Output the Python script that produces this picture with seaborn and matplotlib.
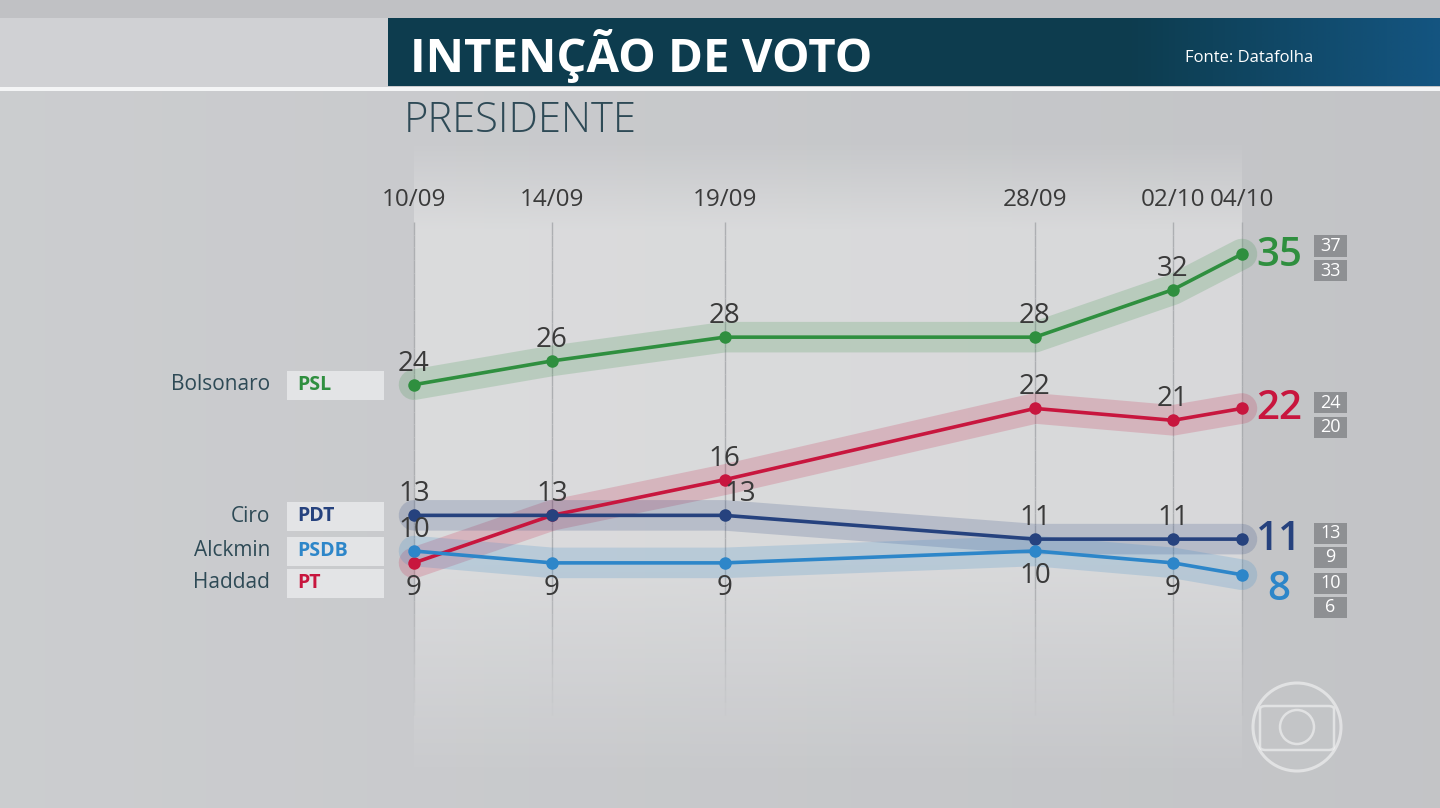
import numpy as np
import pandas as pd
import matplotlib
matplotlib.use("Agg")
import matplotlib.pyplot as plt
from matplotlib.patches import Rectangle, Ellipse, FancyBboxPatch
import seaborn as sns

# ---------------- data ----------------
dates = ["10/09", "14/09", "19/09", "28/09", "02/10", "04/10"]
days = [0, 4, 9, 18, 22, 24]          # days since 10/09
candidates = ["Bolsonaro", "Haddad", "Ciro", "Alckmin"]
parties = ["PSL", "PT", "PDT", "PSDB"]
bolsonaro = [24, 26, 28, 28, 32, 35]
haddad = [9, 13, 16, 22, 21, 22]
ciro = [13, 13, 13, 11, 11, 11]
alckmin = [10, 9, 9, 10, 9, 8]
range_hi = [37, 24, 13, 10]
range_lo = [33, 20, 9, 6]
title = "INTENÇÃO DE VOTO"
subtitle = "PRESIDENTE"
source = "Fonte: Datafolha"

series = {"Bolsonaro": bolsonaro, "Haddad": haddad, "Ciro": ciro, "Alckmin": alckmin}
df = pd.DataFrame([
    {"cand": c, "day": d, "date": lab, "val": v}
    for c in candidates for d, lab, v in zip(days, dates, series[c])
])

# ---------------- style ----------------
colors = {"Bolsonaro": "#2f8f3f", "Haddad": "#c8163e", "Ciro": "#26427e", "Alckmin": "#2d86c9"}
label_pos = {
    "Bolsonaro": ["a", "a", "a", "a", "a", None],
    "Haddad":    ["b", None, "a", "a", "a", None],
    "Ciro":      ["a", "a", "a", "a", "a", None],
    "Alckmin":   ["a", "b", "b", "b", "b", None],
}
label_dx = {("Ciro", 2): 0.45}
left_label_y = {"Bolsonaro": 385, "Ciro": 516, "Alckmin": 551, "Haddad": 583}
big_label_y = {"Bolsonaro": 256, "Haddad": 409, "Ciro": 540, "Alckmin": 590}
range_box_y = {"Bolsonaro": (246, 271), "Haddad": (403, 427), "Ciro": (533, 557), "Alckmin": (583, 607)}

W, H = 1440, 808
PX_DAY = 34.5
X0 = 414
PX_PT = 11.88
Y35 = 254

sns.set_theme(style="white")
plt.rcParams["font.family"] = ["Open Sans", "DejaVu Sans"]

fig = plt.figure(figsize=(W / 100, H / 100), dpi=100)
fig.patch.set_facecolor("#c7c8cb")
ax = fig.add_axes([0, 0, 1, 1])
ax.set_axis_off()
xmin = -X0 / PX_DAY
xmax = (W - X0) / PX_DAY
ymax = 35 + Y35 / PX_PT
ymin = 35 - (H - Y35) / PX_PT
ax.set_xlim(xmin, xmax)
ax.set_ylim(ymin, ymax)


def fx(px):
    return px / W


def fy(py):
    return 1 - py / H


def dy(px):
    return px / PX_PT


# background gradient (slightly darker to the right)
bg = np.zeros((2, W, 4))
base = np.array([0.80, 0.805, 0.815])
t = np.linspace(0, 1, W)
bg[:, :, :3] = (base[None, :] - 0.035 * t[:, None])[None, :, :]
bg[:, :, 3] = 1
ax.imshow(bg, extent=[xmin, xmax, ymin, ymax], aspect="auto", zorder=0,
          interpolation="bilinear")

# lighter plot zone between first and last date, soft top and bottom
ztop, zbot = 140, 808
npx = zbot - ztop
rows = np.arange(npx) + ztop
prof = np.ones(npx)
prof = np.where(rows < 230, (rows - ztop) / (230 - ztop), prof)
prof = np.where(rows > 560, np.clip(1 - (rows - 560) / 220, 0, 1), prof)
zone = np.ones((npx, 2, 4))
zone[:, :, :3] = 0.93
zone[:, :, 3] = 0.5 * prof[:, None]
ax.imshow(zone, extent=[days[0], days[-1], 35 - dy(zbot - Y35), 35 + dy(Y35 - ztop)],
          aspect="auto", zorder=0.5, interpolation="bilinear")

# vertical date lines (fading)
ytop = 35 + dy(Y35 - 222)
ybot = 35 - dy(715 - Y35)
ys = np.linspace(ytop, ybot, 40)
for d in days:
    for k in range(len(ys) - 1):
        a = 0.9 if k < 28 else 0.9 * (len(ys) - 1 - k) / (len(ys) - 1 - 28)
        ax.plot([d, d], [ys[k], ys[k + 1]], color="#a9abae", lw=1.0, alpha=a, zorder=1,
                solid_capstyle="butt")

# halos
sns.lineplot(data=df, x="day", y="val", hue="cand", hue_order=candidates, palette=colors,
             linewidth=22, alpha=0.19, legend=False, errorbar=None, sort=True,
             solid_capstyle="round", ax=ax, zorder=2)
# main lines
sns.lineplot(data=df, x="day", y="val", hue="cand", hue_order=candidates, palette=colors,
             linewidth=2.6, marker="o", markersize=9, markeredgewidth=0, legend=False,
             errorbar=None, sort=True, ax=ax, zorder=4)
ax.set_xlim(xmin, xmax)
ax.set_ylim(ymin, ymax)
ax.set_axis_off()

# value labels
for c in candidates:
    for i, (d, v) in enumerate(zip(days, series[c])):
        p = label_pos[c][i]
        if p is None:
            continue
        yy = v + dy(21) if p == "a" else v - dy(25)
        ax.text(d + label_dx.get((c, i), 0), yy, f"{v}", ha="center", va="center",
                fontsize=20, color="#3a3a3a", zorder=6)

# final big values + range boxes
for c, hi, lo in zip(candidates, range_hi, range_lo):
    v = series[c][-1]
    yb = big_label_y[c]
    fig.text(fx(1279), fy(yb), f"{v}", ha="center", va="center", fontsize=29,
             fontweight="semibold", color=colors[c])
    for num, yc in zip((hi, lo), range_box_y[c]):
        fig.patches.append(Rectangle((fx(1314), fy(yc + 10.5)), fx(33), 21 / H,
                                     transform=fig.transFigure, facecolor="#8e9093",
                                     edgecolor="none", zorder=3))
        fig.text(fx(1330.5), fy(yc), f"{num}", ha="center", va="center", fontsize=13,
                 color="white", zorder=4)

# date tick labels
for d, lab in zip(days, dates):
    ax.text(d, 35 + dy(Y35 - 200), lab, ha="center", va="center", fontsize=17.5,
            color="#3a3a3a")

# left candidate labels with party boxes
for c, p in zip(candidates, parties):
    yy = left_label_y[c]
    fig.text(fx(270), fy(yy), c, ha="right", va="center", fontsize=15, color="#2e4a56")
    fig.patches.append(Rectangle((fx(287), fy(yy + 14.5)), fx(97), 29 / H,
                                 transform=fig.transFigure, facecolor="#e3e4e6",
                                 edgecolor="none", zorder=1))
    fig.text(fx(297), fy(yy), p, ha="left", va="center", fontsize=14, fontweight="bold",
             color=colors[c])

# header
fig.patches.append(Rectangle((0, fy(18)), 1, 18 / H, transform=fig.transFigure,
                             facecolor="#c0c1c4", edgecolor="none", zorder=1))
fig.patches.append(Rectangle((0, fy(87)), fx(388), 69 / H, transform=fig.transFigure,
                             facecolor="#d0d1d4", edgecolor="none", zorder=1))
fig.patches.append(Rectangle((fx(388), fy(86)), 1 - fx(388), 68 / H, transform=fig.transFigure,
                             facecolor="#0d3c4e", edgecolor="none", zorder=2))
hb = np.zeros((2, 512, 4))
hb[:, :, 0] = 0.10
hb[:, :, 1] = 0.40
hb[:, :, 2] = 0.64
hb[:, :, 3] = np.clip(np.linspace(-1.4, 0.6, 512), 0, 1)[None, :]
hax = fig.add_axes([fx(388), fy(86), 1 - fx(388), 68 / H])
hax.imshow(hb, aspect="auto", extent=[0, 1, 0, 1], interpolation="bilinear")
hax.set_axis_off()
hax.set_zorder(2.5)
fig.patches.append(Rectangle((0, fy(91)), 1, 4 / H, transform=fig.transFigure,
                             facecolor="#f4f5f6", edgecolor="none", zorder=3))
fig.text(fx(410), fy(56), title, ha="left", va="center", fontsize=34, fontweight="bold",
         color="white", zorder=5)
fig.text(fx(1185), fy(58), source, ha="left", va="center", fontsize=12, color="white", zorder=5)
fig.text(fx(404), fy(121), subtitle, ha="left", va="center", fontsize=30, fontweight="light",
         color="#2e4a56")

# faint broadcaster logo
lk = dict(transform=fig.transFigure, facecolor="none", edgecolor="white", alpha=0.5)
fig.patches.append(Ellipse((fx(1297), fy(727)), fx(88), 88 / H, lw=2.2, **lk))
fig.patches.append(FancyBboxPatch((fx(1260), fy(750)), fx(74), 44 / H,
                                  boxstyle="round,pad=0,rounding_size=0.004", lw=1.8, **lk))
fig.patches.append(Ellipse((fx(1297), fy(727)), fx(34), 34 / H, lw=1.8, **lk))

fig.savefig("out.png", dpi=100, facecolor=fig.get_facecolor())
